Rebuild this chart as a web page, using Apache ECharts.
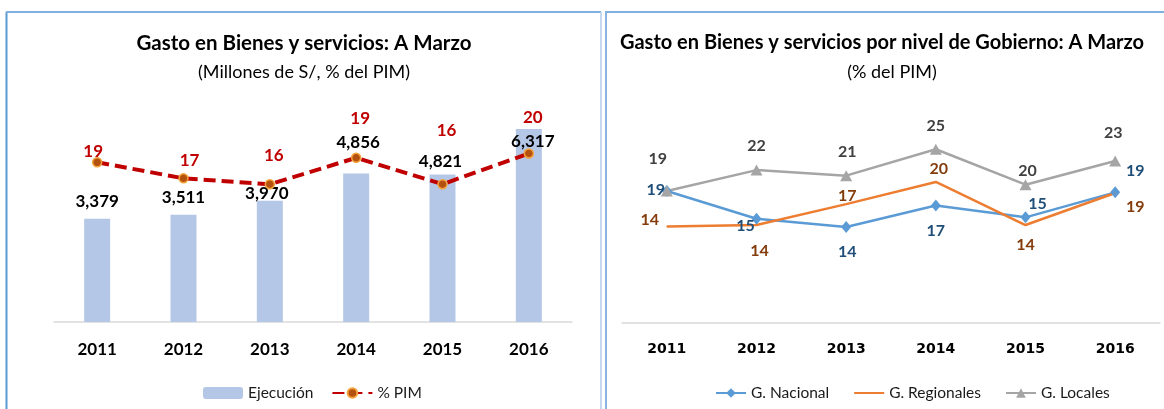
<!DOCTYPE html>
<html>
<head>
<meta charset="utf-8">
<title>Gasto en Bienes y servicios</title>
<script src="https://cdn.jsdelivr.net/npm/echarts@6/dist/echarts.min.js"></script>
<style>
  html, body { margin: 0; padding: 0; background: #fff; overflow: hidden; }
  #chart { width: 1164px; height: 409px; }
</style>
</head>
<body>
<div id="chart"></div>
<script>
// categorias
const years = ["2011", "2012", "2013", "2014", "2015", "2016"];
// izquierda: ejecucion (millones de S/) y % del PIM
const ejecucion = [3379, 3511, 3970, 4856, 4821, 6317];
const pctPim = [18.8, 16.6, 15.8, 19.4, 15.8, 20.0];
// derecha: % del PIM por nivel de gobierno
const gNacional = [19.0, 15.0, 13.8, 16.9, 15.2, 18.8];
const gRegionales = [13.9, 14.1, 17.1, 20.3, 14.1, 18.7];
const gLocales = [19.0, 22.0, 21.2, 25.0, 19.9, 23.3];

const FN = "Lato, 'Liberation Sans', sans-serif";

// etiquetas colocadas a mano, como en el original
function withOffsets(vals, offs) {
  return vals.map((v, i) => ({ value: v, label: { offset: offs[i] } }));
}
const round0 = p => Math.round(p.value).toString();

const myChart = echarts.init(document.getElementById("chart"));

const option = {
  animation: false,
  graphic: [
    { type: "line", shape: { x1: 6.5, y1: 12, x2: 6.5, y2: 409 }, style: { stroke: "#5b9bd5", lineWidth: 2 } },
    { type: "line", shape: { x1: 6, y1: 12, x2: 601, y2: 12 }, style: { stroke: "#7fb0e0", lineWidth: 2 } },
    { type: "line", shape: { x1: 601, y1: 12, x2: 601, y2: 409 }, style: { stroke: "#b0cbeb", lineWidth: 1.5 } },
    { type: "line", shape: { x1: 606, y1: 12, x2: 606, y2: 409 }, style: { stroke: "#8ab4e0", lineWidth: 2 } },
    { type: "line", shape: { x1: 605, y1: 12, x2: 1164, y2: 12 }, style: { stroke: "#7fb0e0", lineWidth: 2 } },
    {
      type: "text", x: 304, y: 43,
      style: { text: "Gasto en Bienes y servicios: A Marzo", font: "bold 20.5px " + FN, fill: "#000", align: "center", verticalAlign: "middle" }
    },
    {
      type: "text", x: 304, y: 72,
      style: { text: "(Millones de S/, % del PIM)", font: "18px " + FN, fill: "#000", align: "center", verticalAlign: "middle" }
    },
    {
      type: "text", x: 882, y: 43,
      style: { text: "Gasto en Bienes y servicios por nivel de Gobierno: A Marzo", font: "bold 20px " + FN, fill: "#000", align: "center", verticalAlign: "middle" }
    },
    {
      type: "text", x: 892, y: 72,
      style: { text: "(% del PIM)", font: "18px " + FN, fill: "#000", align: "center", verticalAlign: "middle" }
    }
  ],
  legend: [
    {
      data: ["Ejecución", "% PIM"],
      left: 198, top: 380,
      itemWidth: 40, itemHeight: 12, itemGap: 18,
      textStyle: { fontFamily: FN, fontSize: 15.5, color: "#1a1a1a" }
    },
    {
      data: ["G. Nacional", { name: "G. Regionales", itemStyle: { opacity: 0 } }, "G. Locales"],
      left: 710, top: 380,
      itemWidth: 30, itemHeight: 12, itemGap: 24,
      textStyle: { fontFamily: FN, fontSize: 15.5, color: "#1a1a1a" }
    }
  ],
  grid: [
    { left: 54, top: 108, width: 518, height: 214 },
    { left: 622, top: 114.5, width: 538, height: 208.5 }
  ],
  xAxis: [
    {
      type: "category", gridIndex: 0, data: years,
      axisLine: { lineStyle: { color: "#d9d9d9", width: 1.5 } },
      axisTick: { show: false },
      axisLabel: { margin: 19, fontFamily: FN, fontWeight: "bold", fontSize: 17, color: "#000" }
    },
    {
      type: "category", gridIndex: 1, data: years,
      axisLine: { lineStyle: { color: "#d9d9d9", width: 1.5 } },
      axisTick: { show: false },
      axisLabel: { margin: 19, fontFamily: "DejaVu Sans", fontWeight: "bold", fontSize: 14, color: "#000" }
    }
  ],
  yAxis: [
    { type: "value", gridIndex: 0, min: 0, max: 7000, show: false },
    { type: "value", gridIndex: 0, min: -3, max: 26.2, show: false },
    { type: "value", gridIndex: 1, min: 0, max: 30, show: false }
  ],
  series: [
    {
      name: "Ejecución",
      type: "bar",
      xAxisIndex: 0, yAxisIndex: 0,
      barWidth: 26,
      itemStyle: { color: "#b4c7e7" },
      label: {
        show: true, position: "top", distance: 0,
        fontFamily: FN, fontWeight: "bold", fontSize: 17, color: "#000",
        formatter: p => p.value.toLocaleString("en-US")
      },
      data: withOffsets(ejecucion, [[0, -9], [0, -9], [-3, 1], [2, -23], [-2, -5], [4, 21]])
    },
    {
      name: "% PIM",
      type: "line",
      xAxisIndex: 0, yAxisIndex: 1,
      z: 3,
      symbol: "circle", symbolSize: 9,
      lineStyle: { color: "#c00000", width: 4, type: [12, 6] },
      itemStyle: { color: "#b4510f", borderColor: "#f4a23c", borderWidth: 1.5 },
      label: {
        show: true, position: "inside",
        fontFamily: FN, fontWeight: "bold", fontSize: 17, color: "#c00000",
        formatter: round0
      },
      data: withOffsets(pctPim, [[-4, -11], [6, -18], [4, -29], [4, -39], [4, -54], [4, -36]])
    },
    {
      name: "G. Nacional",
      type: "line",
      xAxisIndex: 1, yAxisIndex: 2,
      symbol: "diamond", symbolSize: [10, 12],
      lineStyle: { color: "#5b9bd5", width: 2.5 },
      itemStyle: { color: "#5b9bd5" },
      label: {
        show: true, position: "inside",
        fontFamily: FN, fontWeight: "bold", fontSize: 16, color: "#1f4e79",
        formatter: round0
      },
      data: withOffsets(gNacional, [[-11, -1], [-11, 7], [1, 25], [0, 25], [12, -14], [20, -21]])
    },
    {
      name: "G. Regionales",
      type: "line",
      xAxisIndex: 1, yAxisIndex: 2,
      symbol: "circle", symbolSize: 1,
      lineStyle: { color: "#ed7d31", width: 2.5 },
      itemStyle: { color: "#ed7d31" },
      label: {
        show: true, position: "inside",
        fontFamily: FN, fontWeight: "bold", fontSize: 16, color: "#843c0c",
        formatter: round0
      },
      data: withOffsets(gRegionales, [[-17, -7], [3, 26], [1, -8], [3, -13], [0, 20], [20, 14]])
    },
    {
      name: "G. Locales",
      type: "line",
      xAxisIndex: 1, yAxisIndex: 2,
      symbol: "triangle", symbolSize: [12, 11],
      lineStyle: { color: "#a5a5a5", width: 2.5 },
      itemStyle: { color: "#a5a5a5" },
      label: {
        show: true, position: "inside",
        fontFamily: FN, fontWeight: "bold", fontSize: 16, color: "#404040",
        formatter: round0
      },
      data: withOffsets(gLocales, [[-9, -32], [0, -24], [1, -24], [0, -23], [2, -14], [-2, -28]])
    }
  ]
};

myChart.setOption(option);
</script>
</body>
</html>
